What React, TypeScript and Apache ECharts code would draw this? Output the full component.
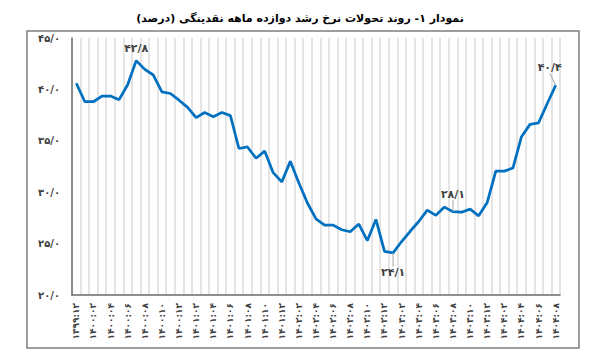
import React, { useEffect, useRef } from "react";
import * as echarts from "echarts";

const categories = [
  "۱۳۹۹:۱۲",
  "۱۴۰۰:۰۱", "۱۴۰۰:۰۲", "۱۴۰۰:۰۳", "۱۴۰۰:۰۴", "۱۴۰۰:۰۵", "۱۴۰۰:۰۶", "۱۴۰۰:۰۷", "۱۴۰۰:۰۸", "۱۴۰۰:۰۹", "۱۴۰۰:۱۰", "۱۴۰۰:۱۱", "۱۴۰۰:۱۲",
  "۱۴۰۱:۰۱", "۱۴۰۱:۰۲", "۱۴۰۱:۰۳", "۱۴۰۱:۰۴", "۱۴۰۱:۰۵", "۱۴۰۱:۰۶", "۱۴۰۱:۰۷", "۱۴۰۱:۰۸", "۱۴۰۱:۰۹", "۱۴۰۱:۱۰", "۱۴۰۱:۱۱", "۱۴۰۱:۱۲",
  "۱۴۰۲:۰۱", "۱۴۰۲:۰۲", "۱۴۰۲:۰۳", "۱۴۰۲:۰۴", "۱۴۰۲:۰۵", "۱۴۰۲:۰۶", "۱۴۰۲:۰۷", "۱۴۰۲:۰۸", "۱۴۰۲:۰۹", "۱۴۰۲:۱۰", "۱۴۰۲:۱۱", "۱۴۰۲:۱۲",
  "۱۴۰۳:۰۱", "۱۴۰۳:۰۲", "۱۴۰۳:۰۳", "۱۴۰۳:۰۴", "۱۴۰۳:۰۵", "۱۴۰۳:۰۶", "۱۴۰۳:۰۷", "۱۴۰۳:۰۸", "۱۴۰۳:۰۹", "۱۴۰۳:۱۰", "۱۴۰۳:۱۱", "۱۴۰۳:۱۲",
  "۱۴۰۴:۰۱", "۱۴۰۴:۰۲", "۱۴۰۴:۰۳", "۱۴۰۴:۰۴", "۱۴۰۴:۰۵", "۱۴۰۴:۰۶", "۱۴۰۴:۰۷", "۱۴۰۴:۰۸",
];

const growthValues = [
  40.6, 38.8, 38.8, 39.35, 39.35, 39.0, 40.45, 42.8, 41.95, 41.4, 39.75, 39.6, 38.95,
  38.25, 37.25, 37.75, 37.35, 37.75, 37.45, 34.25, 34.4, 33.3, 34.0, 31.9, 31.0,
  33.0, 30.9, 28.95, 27.4, 26.8, 26.8, 26.35, 26.15, 26.9, 25.3, 27.35, 24.25,
  24.1, 25.2, 26.2, 27.15, 28.25, 27.75, 28.55, 28.1, 28.05, 28.35, 27.7, 29.0,
  32.05, 32.05, 32.35, 35.4, 36.6, 36.75, 38.6, 40.4,
];

const labeledIndices = [7, 37, 44, 56];

const titleText = "نمودار ۱- روند تحولات نرخ رشد دوازده ماهه نقدینگی (درصد)";

const faDigits = "۰۱۲۳۴۵۶۷۸۹";
const toFa = (v: number) =>
  v.toFixed(1).replace(/\d/g, (d) => faDigits[Number(d)]).replace(".", "/");

const FONT = "'DejaVu Sans', 'Noto Sans', sans-serif";

export default function App() {
  const ref = useRef<HTMLDivElement>(null);

  useEffect(() => {
    if (!ref.current) return;
    const chart = echarts.init(ref.current, null, { renderer: "svg" });

    const labelCfg: Record<number, any> = {
      7: { position: "top", distance: 7 },
      37: { position: "bottom", distance: 6 },
      44: { position: "top", distance: 6 },
      56: { position: "top", distance: 6 },
    };
    const layoutCfg: Record<number, any> = {
      37: { dy: 8 },
      44: { dy: -6 },
      56: { dx: -6, dy: -6 },
    };

    const data = growthValues.map((v, i) =>
      labeledIndices.includes(i)
        ? {
            value: v,
            label: {
              show: true,
              formatter: () => toFa(v),
              color: "#404040",
              fontFamily: FONT,
              fontWeight: "bold",
              fontSize: 11,
              ...labelCfg[i],
            },
            labelLine: { show: i !== 7, lineStyle: { color: "#a6a6a6", width: 1 } },
          }
        : v
    );

    chart.setOption({
      animation: false,
      backgroundColor: "#ffffff",
      title: {
        text: titleText,
        left: "center",
        top: 8,
        textStyle: { fontFamily: FONT, fontSize: 11, fontWeight: "bold", color: "#000000" },
      },
      graphic: [
        {
          type: "rect",
          shape: { x: 27, y: 31, width: 552, height: 317 },
          style: { fill: "none", stroke: "#7f7f7f", lineWidth: 1.5 },
          silent: true,
        },
      ],
      grid: { left: 72, right: 40, top: 38, bottom: 61 },
      xAxis: {
        type: "category",
        data: categories,
        boundaryGap: true,
        axisLine: { show: true, lineStyle: { color: "#6b6b6b", width: 1.5 } },
        axisTick: { show: false },
        axisLabel: {
          interval: 1,
          rotate: 90,
          fontFamily: FONT,
          fontSize: 9,
          fontWeight: "bold",
          color: "#404040",
          margin: 8,
        },
        splitLine: { show: true, interval: 0, lineStyle: { color: "#dcdcdc", width: 1.5 } },
      },
      yAxis: {
        type: "value",
        min: 20,
        max: 45,
        interval: 5,
        axisLine: { show: true, lineStyle: { color: "#6b6b6b", width: 1.5 } },
        axisTick: { show: false },
        splitLine: { show: false },
        axisLabel: {
          formatter: (v: number) => toFa(v),
          fontFamily: FONT,
          fontSize: 10,
          fontWeight: "bold",
          color: "#404040",
          margin: 12,
        },
      },
      series: [
        {
          type: "line",
          data,
          symbol: "circle",
          symbolSize: 0.01,
          showSymbol: true,
          lineStyle: { color: "#0070c0", width: 2.75 },
          itemStyle: { color: "#0070c0" },
          labelLayout: (params: any) => layoutCfg[params.dataIndex] || {},
        },
      ],
    });

    return () => chart.dispose();
  }, []);

  return (
    <div
      ref={ref}
      style={{ position: "absolute", left: 0, top: 0, width: 600, height: 356 }}
    />
  );
}
